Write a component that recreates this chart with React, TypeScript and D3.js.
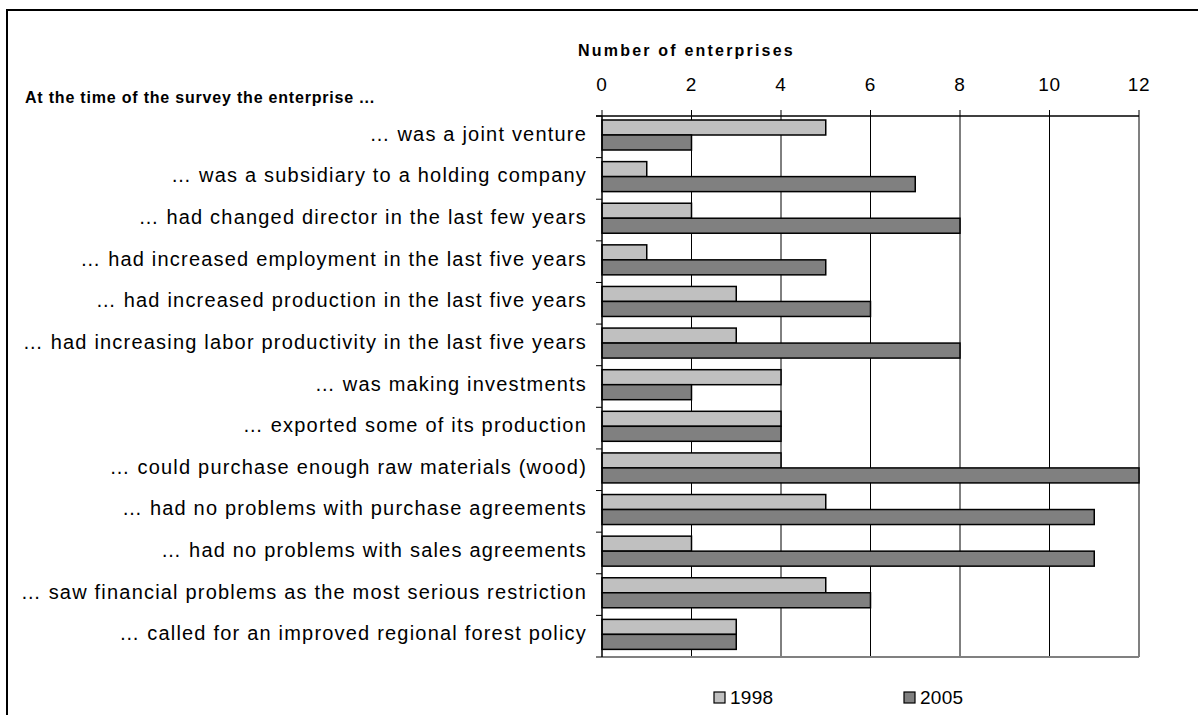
import React from 'react';
import * as d3 from 'd3';

const categories = [
  "… was a joint venture",
  "… was a subsidiary to a holding company",
  "… had changed director in the last few years",
  "… had increased employment in the last five years",
  "… had increased production in the last five years",
  "… had increasing labor productivity in the last five years",
  "… was making investments ",
  "… exported some of its production",
  "… could purchase enough raw materials (wood)",
  "… had no problems with purchase agreements",
  "… had no problems with sales agreements",
  "… saw financial problems as the most serious restriction",
  "… called for an improved regional forest policy",
];
const values1998 = [5, 1, 2, 1, 3, 3, 4, 4, 4, 5, 2, 5, 3];
const values2005 = [2, 7, 8, 5, 6, 8, 2, 4, 12, 11, 11, 6, 3];
const seriesNames = ["1998", "2005"];
const seriesColors = ["#c0c0c0", "#808080"];
const xTickValues = [0, 2, 4, 6, 8, 10, 12];

const font = "'Liberation Sans', Arial, sans-serif";

const App: React.FC = () => {
  const width = 1198;
  const height = 715;
  const left = 602;
  const right = 1139;
  const top = 116;
  const bottom = 657;

  const xScale = d3.scaleLinear().domain([0, 12]).range([left, right]);
  const yScale = d3.scaleBand<number>().domain(d3.range(categories.length)).range([top, bottom]).padding(0);
  const band = yScale.bandwidth();
  // the two bars sit a little above the middle of the band, as in the original
  const inner = d3.scaleBand<string>().domain(seriesNames).range([4, 34]).padding(0);

  const rows = categories.map((c, i) => ({ c, i, vals: [values1998[i], values2005[i]] }));

  return (
    <svg width={width} height={height} style={{ position: 'absolute', left: 0, top: 0, background: '#fff' }}>
      {/* outer frame, runs off the right and bottom edge */}
      <path d={`M7,${height + 5} L7,10 L${width + 5},10`} fill="none" stroke="#000" strokeWidth={2} />

      <text x={25} y={103} fontFamily={font} fontWeight="bold" fontSize={16} letterSpacing={0.8}>At the time of the survey the enterprise ...</text>
      <text x={578} y={56} fontFamily={font} fontWeight="bold" fontSize={16} letterSpacing={2.2}>Number of enterprises</text>

      {/* gridlines */}
      {xTickValues.slice(1, -1).map(v => (
        <line key={v} x1={xScale(v)} x2={xScale(v)} y1={top} y2={bottom} stroke="#000" strokeWidth={1} />
      ))}
      {/* plot border right / bottom */}
      <line x1={right} x2={right} y1={top} y2={bottom} stroke="#808080" strokeWidth={2} />
      <line x1={left} x2={right} y1={bottom} y2={bottom} stroke="#808080" strokeWidth={2} />

      {/* bars */}
      {rows.map(r => (
        <g key={r.i} transform={`translate(0, ${yScale(r.i)})`}>
          {r.vals.map((v, k) => (
            <rect key={k} x={xScale(0)} y={inner(seriesNames[k])} width={xScale(v) - xScale(0)} height={inner.bandwidth()}
              fill={seriesColors[k]} stroke="#000" strokeWidth={1.5} />
          ))}
        </g>
      ))}

      {/* top axis */}
      <line x1={left - 6} x2={right} y1={top} y2={top} stroke="#000" strokeWidth={1.5} />
      {xTickValues.map(v => (
        <g key={v} transform={`translate(${xScale(v)}, ${top})`}>
          <line y1={0} y2={-6} stroke="#000" strokeWidth={1} />
          <text y={-25} textAnchor="middle" fontFamily={font} fontSize={19} letterSpacing={0.8}>{v}</text>
        </g>
      ))}

      {/* category axis */}
      <line x1={left} x2={left} y1={top} y2={bottom} stroke="#000" strokeWidth={1.5} />
      {d3.range(categories.length + 1).map(i => (
        <line key={i} x1={left - 6} x2={left} y1={top + i * band} y2={top + i * band} stroke="#000" strokeWidth={1} />
      ))}
      {rows.map(r => (
        <text key={r.i} x={587} y={(yScale(r.i) as number) + band / 2 + 4} textAnchor="end" fontFamily={font} fontSize={20} letterSpacing={1.2}>{r.c}</text>
      ))}

      {/* legend */}
      {seriesNames.map((s, k) => {
        const lx = k === 0 ? 714 : 904;
        return (
          <g key={s} transform={`translate(${lx}, 692)`}>
            <rect x={0} y={0} width={11} height={11} fill={seriesColors[k]} stroke="#000" strokeWidth={1.2} />
            <text x={16} y={12} fontFamily={font} fontSize={19} letterSpacing={0.3}>{s}</text>
          </g>
        );
      })}
    </svg>
  );
};

export default App;
